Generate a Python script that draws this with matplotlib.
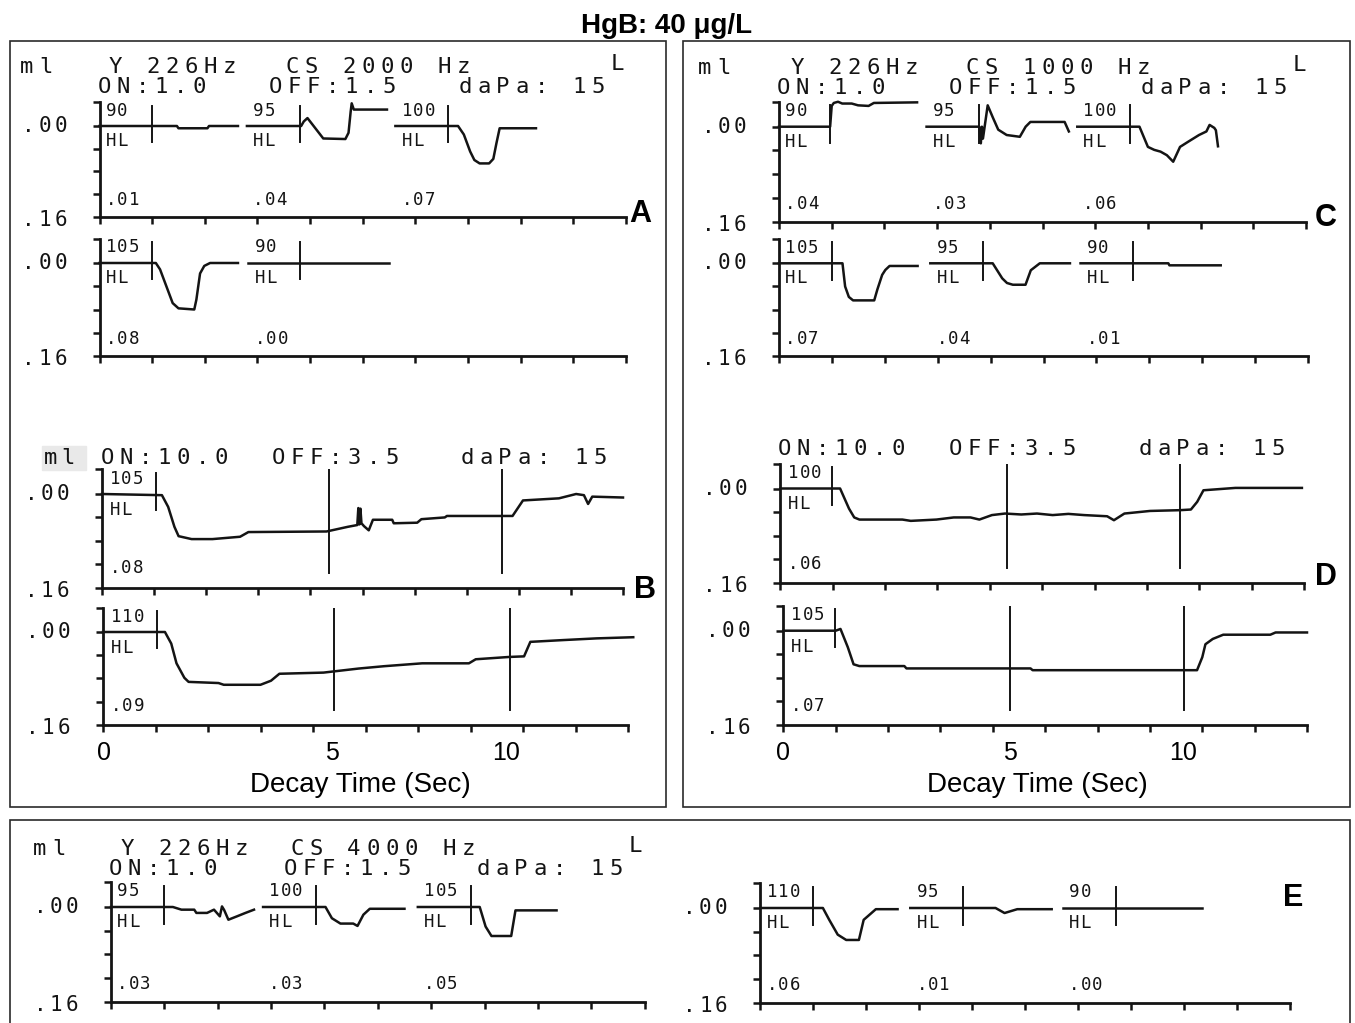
import numpy as np
import matplotlib.pyplot as plt
from matplotlib.patches import Rectangle

W, H = 1355, 1023
INK = '#141414'
MONO = 'DejaVu Sans Mono'
SANS = 'Liberation Sans'
YTOP = -0.042

# ---- short reflex traces (local time in chart divisions, compliance in ml) ----
# panel A, CS 2000 Hz
a_90_t = [0, 1.47, 1.5, 2.05, 2.08, 2.63]
a_90_y = [0, 0, 0.004, 0.004, 0, 0]
a_95_t = [0, 1.03, 1.08, 1.15, 1.3, 1.45, 1.87, 1.93, 1.97, 1.99, 2.03, 2.66]
a_95_y = [0, 0, -0.008, -0.014, 0.004, 0.022, 0.023, 0.012, -0.025, -0.04, -0.029, -0.029]
a_100_t = [0, 1.19, 1.3, 1.42, 1.5, 1.6, 1.78, 1.86, 1.92, 1.98, 2.67]
a_100_y = [0, 0, 0.015, 0.045, 0.06, 0.066, 0.066, 0.058, 0.03, 0.004, 0.004]
a_105_t = [0, 1.07, 1.15, 1.27, 1.39, 1.5, 1.8, 1.84, 1.91, 1.99, 2.1, 2.63]
a_105_y = [0, 0, 0.011, 0.04, 0.069, 0.078, 0.08, 0.063, 0.018, 0.005, 0, 0]
a_90b_t = [0, 2.67]
a_90b_y = [0, 0]

# panel C, CS 1000 Hz
c_90_t = [0, 0.97, 1.0, 1.04, 1.12, 1.2, 1.38, 1.5, 1.7, 1.8, 2.62]
c_90_y = [0, 0, -0.035, -0.04, -0.042, -0.039, -0.039, -0.036, -0.035, -0.04, -0.041]
c_95_t = [0, 1.0, 1.03, 1.05, 1.07, 1.16, 1.26, 1.36, 1.52, 1.77, 1.88, 1.97, 2.62, 2.7]
c_95_y = [0, 0, 0.028, 0.0, 0.02, -0.036, -0.015, 0.005, 0.014, 0.017, 0.0, -0.008, -0.008, 0.008]
c_100_t = [0, 1.18, 1.34, 1.46, 1.58, 1.7, 1.82, 1.95, 2.11, 2.31, 2.45, 2.51, 2.6, 2.63, 2.67]
c_100_y = [0, 0, 0.034, 0.039, 0.042, 0.048, 0.059, 0.034, 0.025, 0.014, 0.008, -0.003, 0.002, 0.006, 0.033]
c_105_t = [0, 1.2, 1.25, 1.32, 1.4, 1.8, 1.86, 1.95, 2.01, 2.09, 2.62]
c_105_y = [0, 0, 0.04, 0.058, 0.064, 0.064, 0.045, 0.02, 0.0115, 0.0046, 0.0046]
c_95b_t = [0, 1.18, 1.36, 1.45, 1.56, 1.8, 1.9, 2.07, 2.64]
c_95b_y = [0, 0, 0.026, 0.034, 0.037, 0.037, 0.012, 0.0, 0.0]
c_90b_t = [0, 1.66, 1.68, 2.65]
c_90b_y = [0, 0, 0.0035, 0.0035]

# panel E, CS 4000 Hz
e_95_t = [0, 1.16, 1.32, 1.56, 1.6, 1.8, 1.93, 2.04, 2.08, 2.12, 2.2, 2.36, 2.52, 2.68]
e_95_y = [0, 0, 0.0045, 0.0045, 0.01, 0.01, 0.0045, 0.0158, -0.001, 0.005, 0.0215, 0.0158, 0.01, 0.0045]
e_100_t = [0, 1.17, 1.29, 1.45, 1.69, 1.77, 1.88, 2.0, 2.65]
e_100_y = [0, 0, 0.019, 0.028, 0.028, 0.032, 0.013, 0.003, 0.003]
e_105_t = [0, 1.16, 1.27, 1.38, 1.75, 1.83, 2.6]
e_105_y = [0, 0, 0.033, 0.049, 0.049, 0.0057, 0.0057]
e_110_t = [0, 1.18, 1.3, 1.46, 1.62, 1.86, 1.95, 2.18, 2.59]
e_110_y = [0, 0, 0.02, 0.045, 0.054, 0.054, 0.02, 0.002, 0.002]
e_95b_t = [0, 1.61, 1.78, 2.02, 2.67]
e_95b_y = [0, 0, 0.0085, 0.002, 0.002]
e_90b_t = [0, 2.62]
e_90b_y = [0, 0]

# ---- reflex decay traces (10 s stimulus) ----
b_105_t = [0, 1.15, 1.27, 1.39, 1.47, 1.72, 2.12, 2.65, 2.81, 4.31, 4.72, 4.9, 4.92, 4.94, 4.96,
           4.98, 5.03, 5.12, 5.2, 5.57, 5.6, 6.05, 6.13, 6.58, 6.62, 7.88, 8.08, 8.77, 9.1, 9.25,
           9.33, 9.41, 10.0]
b_105_y = [0, 0.002, 0.022, 0.056, 0.072, 0.077, 0.077, 0.073, 0.065, 0.064, 0.056, 0.053, 0.024,
           0.052, 0.025, 0.05, 0.055, 0.062, 0.044, 0.044, 0.05, 0.049, 0.043, 0.04, 0.0375, 0.0375,
           0.011, 0.0074, 0.0, 0.002, 0.017, 0.0045, 0.006]
b_110_t = [0, 1.18, 1.3, 1.4, 1.55, 1.63, 2.2, 2.3, 3.0, 3.2, 3.36, 4.2, 4.87, 5.35, 6.08, 6.97,
           7.1, 7.74, 8.02, 8.14, 8.75, 9.4, 10.1]
b_110_y = [0, 0, 0.02, 0.054, 0.079, 0.086, 0.088, 0.091, 0.091, 0.084, 0.072, 0.07, 0.063, 0.059,
           0.054, 0.054, 0.047, 0.043, 0.042, 0.017, 0.014, 0.011, 0.009]
d_100_t = [0, 1.14, 1.31, 1.41, 1.51, 2.33, 2.49, 2.98, 3.31, 3.63, 3.8, 4.04, 4.29, 4.6, 4.9,
           5.2, 5.5, 5.8, 6.24, 6.37, 6.57, 7.06, 7.63, 7.84, 7.96, 8.08, 8.69, 9.96]
d_100_y = [0, 0, 0.034, 0.049, 0.0526, 0.0526, 0.0548, 0.0526, 0.049, 0.049, 0.0526, 0.045, 0.0424,
           0.044, 0.0424, 0.045, 0.043, 0.045, 0.047, 0.0537, 0.0424, 0.038, 0.0367, 0.0356,
           0.0226, 0.003, -0.001, -0.001]
d_105_t = [0, 1.0, 1.09, 1.23, 1.34, 1.45, 2.31, 2.35, 4.72, 4.76, 7.9, 8.0, 8.06, 8.2, 8.4, 9.3,
           9.4, 10.0]
d_105_y = [0, 0, -0.003, 0.028, 0.057, 0.06, 0.06, 0.064, 0.064, 0.067, 0.067, 0.045, 0.023,
           0.014, 0.0068, 0.0068, 0.003, 0.003]

b_marks = [[1.03, 4.35, 7.67], [1.03, 4.4, 7.75]]
d_marks = [[0.98, 4.33, 7.63], [0.98, 4.33, 7.65]]
b_tick_pos = [0.02, 4.36, 7.68]
d_tick_pos = [0.0, 4.32, 7.63]
tick_labels = ['0', '5', '10']

fig = plt.figure(figsize=(W / 100, H / 100), dpi=100)


def header(x, y, s, pitch=19, size=16):
    # printer text: one glyph per fixed-width cell
    for i, ch in enumerate(s):
        if ch != ' ':
            fig.text((x + 7 + i * pitch) / W, 1 - y / H, ch, ha='center', va='center',
                     family=MONO, fontsize=size, color=INK)


def label(ax, x, y, s, pitch=11.5, size=12.5, dx=0, dy=0):
    for i, ch in enumerate(s):
        if ch != ' ':
            ax.annotate(ch, (x, y), xytext=(dx + i * pitch, dy), textcoords='offset pixels',
                        ha='center', va='center', family=MONO, fontsize=size, color=INK,
                        annotation_clip=False)


def strip(left, right, y00, y16):
    k = (y16 - y00) / 0.16
    top = y00 + YTOP * k
    ax = fig.add_axes([left / W, 1 - y16 / H, (right - left) / W, (y16 - top) / H])
    ax.set_xlim(0, 10)
    ax.set_ylim(0.16, YTOP)
    ax.patch.set_visible(False)
    for s in ('top', 'right'):
        ax.spines[s].set_visible(False)
    for s in ('left', 'bottom'):
        ax.spines[s].set_linewidth(2.0)
        ax.spines[s].set_color(INK)
    ax.set_xticks(np.arange(11))
    ax.set_yticks([YTOP, 0, 0.04, 0.08, 0.12, 0.16])
    ax.tick_params(direction='out', length=5, width=1.8, color=INK,
                   labelbottom=False, labelleft=False)
    label(ax, 0, 0, '.00', pitch=16, size=15, dx=-71)
    label(ax, 0, 0.16, '.16', pitch=16, size=15, dx=-71, dy=-3)
    return ax


def burst(ax, start, t, y, level, value, mark=1.0):
    ax.plot(np.asarray(t) + start, y, color=INK, lw=1.8, clip_on=False)
    ax.plot([start + mark] * 2, [-0.036, 0.028], color=INK, lw=1.4)
    label(ax, start + 0.12, -0.027, level, dx=5)
    label(ax, start + 0.12, 0.026, 'HL', dx=5)
    label(ax, start + 0.12, 0.13, value, dx=5)


def decay(ax, t, y, level, value, marks):
    ax.plot(t, y, color=INK, lw=1.8, clip_on=False)
    ax.plot([marks[0]] * 2, [-0.036, 0.028], color=INK, lw=1.4)
    for m in marks[1:]:
        ax.plot([m, m], [YTOP, 0.135], color=INK, lw=1.4)
    label(ax, 0.15, -0.026, level, dx=5)
    label(ax, 0.15, 0.027, 'HL', dx=5)
    label(ax, 0.15, 0.127, value, dx=5)


# frames
for x0, y0, x1, y1 in [(10, 41, 666, 807), (683, 41, 1350, 807), (10, 820, 1350, 1040)]:
    fig.add_artist(Rectangle((x0 / W, 1 - y1 / H), (x1 - x0) / W, (y1 - y0) / H, fill=False,
                             lw=1.2, ec='#2a2a2a', transform=fig.transFigure))

fig.text(667 / W, 1 - 26 / H, 'HgB: 40 μg/L', ha='center', va='center', family=SANS,
         fontsize=20, fontweight='bold')

# ---- A ----
header(20, 67, 'ml')
header(108, 67, 'Y 226Hz')
header(285, 67, 'CS 2000 Hz')
header(610, 64, 'L')
header(97, 87, 'ON:1.0')
header(268, 87, 'OFF:1.5')
header(458, 87, 'daPa: 15')
ax = strip(99.5, 626, 126, 216.7)
burst(ax, 0, a_90_t, a_90_y, '90', '.01')
burst(ax, 2.8, a_95_t, a_95_y, '95', '.04')
burst(ax, 5.62, a_100_t, a_100_y, '100', '.07')
ax = strip(99.5, 626, 263, 356)
burst(ax, 0, a_105_t, a_105_y, '105', '.08')
burst(ax, 2.83, a_90b_t, a_90b_y, '90', '.00', mark=0.97)

# ---- B ----
fig.add_artist(Rectangle((42 / W, 1 - 470 / H), 44 / W, 24 / H, color='#e9e9e9',
                         transform=fig.transFigure, zorder=0))
header(44, 458, 'ml', pitch=17)
header(100, 458, 'ON:10.0')
header(271, 458, 'OFF:3.5')
header(460, 458, 'daPa: 15')
ax = strip(102, 623, 494, 587.7)
decay(ax, b_105_t, b_105_y, '105', '.08', b_marks[0])
ax = strip(103, 628, 632, 724.8)
decay(ax, b_110_t, b_110_y, '110', '.09', b_marks[1])
for p, s in zip(b_tick_pos, tick_labels):
    ax.annotate(s, (p, 0.16), xytext=(0, -28), textcoords='offset pixels', ha='center',
                va='center', family=SANS, fontsize=18, annotation_clip=False)
fig.text(360 / W, 1 - 785 / H, 'Decay Time (Sec)', ha='center', va='center', family=SANS,
         fontsize=20)

# ---- C ----
header(698, 68, 'ml')
header(790, 68, 'Y 226Hz')
header(965, 68, 'CS 1000 Hz')
header(1292, 65, 'L')
header(776, 88, 'ON:1.0')
header(948, 88, 'OFF:1.5')
header(1140, 88, 'daPa: 15')
ax = strip(779, 1306, 126.7, 221.7)
burst(ax, 0, c_90_t, c_90_y, '90', '.04', mark=0.97)
burst(ax, 2.8, c_95_t, c_95_y, '95', '.03')
burst(ax, 5.66, c_100_t, c_100_y, '100', '.06')
ax = strip(779, 1308, 263.3, 356)
burst(ax, 0, c_105_t, c_105_y, '105', '.07')
burst(ax, 2.86, c_95b_t, c_95b_y, '95', '.04')
burst(ax, 5.7, c_90b_t, c_90b_y, '90', '.01')

# ---- D ----
header(777, 449, 'ON:10.0')
header(948, 449, 'OFF:3.5')
header(1138, 449, 'daPa: 15')
ax = strip(780.4, 1304, 488.5, 583)
decay(ax, d_100_t, d_100_y, '100', '.06', d_marks[0])
ax = strip(783.4, 1307, 630.7, 725)
decay(ax, d_105_t, d_105_y, '105', '.07', d_marks[1])
for p, s in zip(d_tick_pos, tick_labels):
    ax.annotate(s, (p, 0.16), xytext=(0, -28), textcoords='offset pixels', ha='center',
                va='center', family=SANS, fontsize=18, annotation_clip=False)
fig.text(1037 / W, 1 - 785 / H, 'Decay Time (Sec)', ha='center', va='center', family=SANS,
         fontsize=20)

# ---- E ----
header(33, 849, 'ml')
header(120, 849, 'Y 226Hz')
header(290, 849, 'CS 4000 Hz')
header(628, 846, 'L')
header(108, 869, 'ON:1.0')
header(283, 869, 'OFF:1.5')
header(476, 869, 'daPa: 15')
ax = strip(111, 644.6, 907, 1001.7)
burst(ax, 0, e_95_t, e_95_y, '95', '.03')
burst(ax, 2.85, e_100_t, e_100_y, '100', '.03')
burst(ax, 5.75, e_105_t, e_105_y, '105', '.05')
ax = strip(760.4, 1290, 908, 1002.7)
burst(ax, 0, e_110_t, e_110_y, '110', '.06')
burst(ax, 2.83, e_95b_t, e_95b_y, '95', '.01')
burst(ax, 5.71, e_90b_t, e_90b_y, '90', '.00')

for x, y, s in [(640, 214, 'A'), (645, 590, 'B'), (1326, 218, 'C'), (1326, 577, 'D'),
                (1293, 898, 'E')]:
    fig.text(x / W, 1 - y / H, s, ha='center', va='center', family=SANS, fontsize=22,
             fontweight='bold')

fig.savefig('out.png', dpi=100, facecolor='white')
